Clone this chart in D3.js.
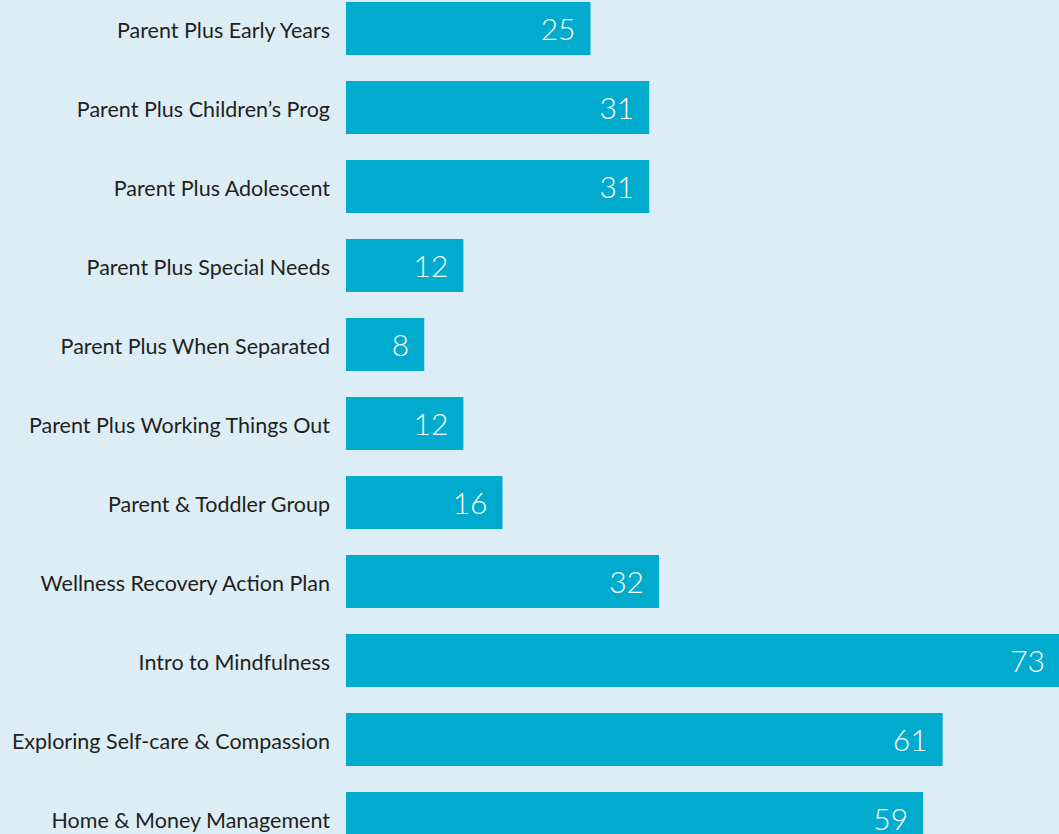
<!DOCTYPE html>
<html>
	<head>
		<script src="https://d3js.org/d3.v7.min.js"></script>
		<style>
			body { margin: 0; background: #dcedf5; }
		</style>
	</head>
	<body>
		<svg width="1059" height="834"></svg>

		<script type="text/javascript">

			var categories = [
				'Parent Plus Early Years',
				'Parent Plus Children\u2019s Prog',
				'Parent Plus Adolescent',
				'Parent Plus Special Needs',
				'Parent Plus When Separated',
				'Parent Plus Working Things Out',
				'Parent & Toddler Group',
				'Wellness Recovery Action Plan',
				'Intro to Mindfulness',
				'Exploring Self-care & Compassion',
				'Home & Money Management'
			];
			var values = [25, 31, 31, 12, 8, 12, 16, 32, 73, 61, 59];

			var svg = d3.select('svg');

			svg.append('rect')
				.attr('width', 1059)
				.attr('height', 834)
				.attr('fill', '#dcedf5');

			var x = d3.scaleLinear()
				.domain([0, 73])
				.range([346, 1060]);

			// step 79px, bar 53px
			var y = d3.scaleBand()
				.domain(categories)
				.range([2, 2 + 79 * 11 - 26])
				.paddingInner(26 / 79)
				.paddingOuter(0);

			var rows = svg.selectAll('g.row')
				.data(values)
				.enter()
				.append('g')
				.attr('class', 'row');

			rows.append('rect')
				.attr('x', x(0))
				.attr('y', function(d, i) { return y(categories[i]); })
				.attr('width', function(d) { return x(d) - x(0); })
				.attr('height', y.bandwidth())
				.attr('fill', '#00abce');

			rows.append('text')
				.attr('x', function(d) { return x(d) - 15; })
				.attr('y', function(d, i) { return y(categories[i]) + y.bandwidth() / 2 - 1; })
				.attr('text-anchor', 'end')
				.attr('dominant-baseline', 'central')
				.style('font-family', 'Lato, "Open Sans", sans-serif')
				.style('font-weight', 300)
				.style('font-size', '30px')
				.style('fill', '#ffffff')
				.text(function(d) { return d; });

			rows.append('text')
				.attr('x', 330)
				.attr('y', function(d, i) { return y(categories[i]) + y.bandwidth() / 2 + 1; })
				.attr('text-anchor', 'end')
				.attr('dominant-baseline', 'central')
				.style('font-family', 'Lato, "Open Sans", sans-serif')
				.style('font-size', '21.5px')
				.style('fill', '#231f20')
				.text(function(d, i) { return categories[i]; });

		</script>
	</body>
</html>
